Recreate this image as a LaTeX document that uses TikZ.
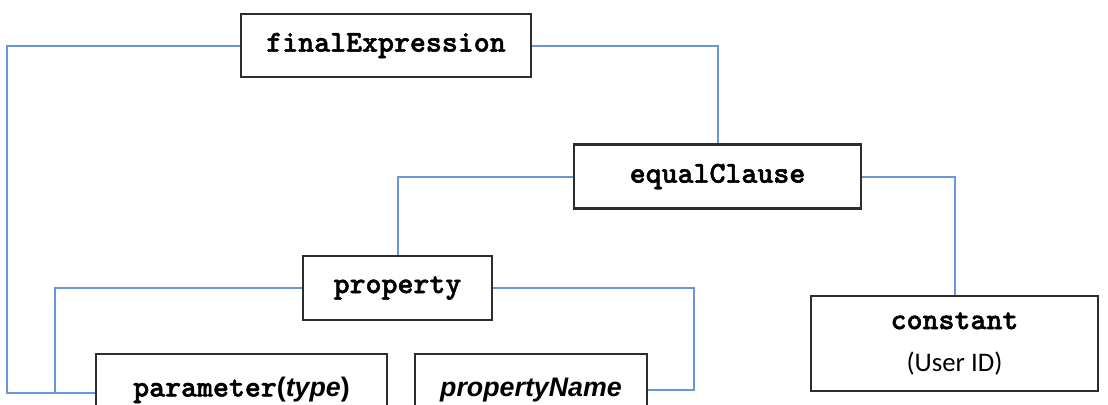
\documentclass[tikz,border=0pt]{standalone}
\usepackage{fontspec}
\setsansfont{Liberation Sans}
\newfontfamily\carl{Carlito}
\newfontfamily\codefam[FakeBold=1.6]{lmmonolt10-bold.otf}
\definecolor{linkblue}{RGB}{108,148,218}
\definecolor{boxgray}{RGB}{45,45,45}
\newcommand{\codefont}{\fontsize{15.2}{20}\selectfont\codefam}
\begin{document}
\begin{tikzpicture}[x=0.5pt,y=-0.5pt,
  box/.style={draw=boxgray,line width=1.2pt,fill=white,inner sep=0pt,align=center,
    font=\fontsize{13.4}{20}\selectfont\bfseries},
  conn/.style={draw=linkblue,line width=1pt}]
\useasboundingbox (0,0) rectangle (1108,404);
\node[box,minimum width=145pt,minimum height=31.5pt] (final) at (386,45.5) {\codefont finalExpression};
\node[box,minimum width=143.5pt,minimum height=32pt] (equal) at (717.5,176.5) {\codefont equalClause};
\node[box,minimum width=94.5pt,minimum height=31.8pt] (prop) at (397.5,288) {\codefont property};
\node[box,minimum width=145.5pt,minimum height=36pt] (param) at (241.5,390) {{\codefont parameter}\sffamily(\itshape type\upshape)};
\node[box,minimum width=116pt,minimum height=36pt] (pname) at (531,390) {\sffamily\itshape propertyName};
\node[box,minimum width=143.5pt,minimum height=47.5pt] (const) at (954.5,343.5) {{\codefont constant}\\[1pt]{\carl\mdseries (User ID)}};
\coordinate (c1) at (7,393);
\coordinate (c2) at (55,393);
\coordinate (c3) at (693.5,390);
\draw[conn] (final.west) -| (c1) -- (param.west |- c1);
\draw[conn] (prop.west) -| (c2);
\draw[conn] (prop.east) -| (c3) -- (pname.east |- c3);
\draw[conn] (final.east) -| (equal.north);
\draw[conn] (equal.west) -| (prop.north);
\draw[conn] (equal.east) -| (const.north);
\end{tikzpicture}
\end{document}
